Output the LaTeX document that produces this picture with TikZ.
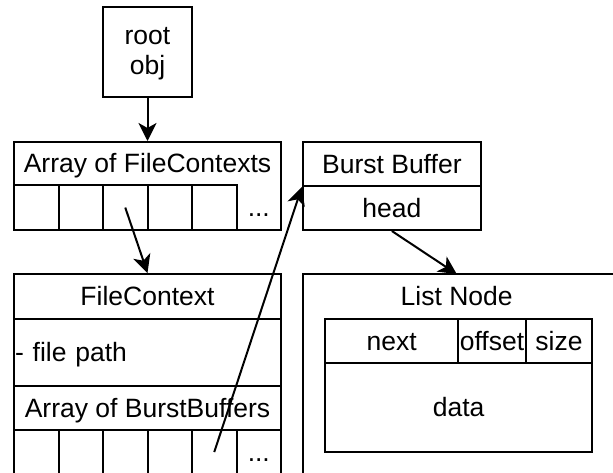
\documentclass[tikz,border=0pt]{standalone}
\usepackage{fontspec}
\setmainfont{Liberation Sans}
\usetikzlibrary{arrows.meta}

\begin{document}
\begin{tikzpicture}[x=1pt,y=-1pt,
    every node/.style={font=\fontsize{26.5}{30}\selectfont, inner sep=0pt},
    txt/.style={text height=21pt, text depth=3pt},
    box/.style={draw, line width=2pt, txt},
    cell/.style={draw, line width=2pt, minimum width=44.5pt, minimum height=#1},
    ptr/.style={-{Stealth[length=18pt,width=18pt,inset=5pt]}, line width=2pt}]
    % \draw[help lines] (0,0) grid[step=50] (613,472);
    \useasboundingbox (0,0) rectangle (613,472);
    \clip (0,0) rectangle (613,472);

    \node[draw, line width=2pt, minimum width=89pt, minimum height=90pt, align=center,
          text depth=2.5pt] (root) at (147.5,52) {root\\obj};

    % array of file contexts
    \node[box, minimum width=267pt, minimum height=88pt] (fcs) at (147.5,186) {};
    \node[txt] (fcs-title) at (147.5,163.5) {Array of FileContexts};
    \foreach \i in {1,...,5}
        \node[cell=45pt] (fcs-\i) at (-8.25+44.5*\i,207.5) {};
    \node[txt] (fcs-more) at (258.8,207.5) {...};

    % burst buffer
    \node[box, minimum width=178pt, minimum height=44pt] (bb)      at (391.85,164) {Burst Buffer};
    \node[box, minimum width=178pt, minimum height=44pt] (bb-head) at (391.85,208) {head};

    % file context
    \node[box, minimum width=267pt, minimum height=45.3pt] (fc) at (147.5,296.65) {FileContext};
    \node[box, minimum width=267pt, minimum height=66.7pt, text width=265pt, align=left]
        (fc-path) at (147.5,352.65) {- file path};
    \node[box, minimum width=267pt, minimum height=44pt] (fc-bbs) at (147.5,408) {Array of BurstBuffers};
    \node[box, minimum width=267pt, minimum height=60pt] (fc-arr) at (147.5,460) {};
    \foreach \i in {1,...,5}
        \node[cell=44pt] (fc-\i) at (-8.25+44.5*\i,452) {};
    \node[txt] (fc-more) at (258.8,452) {...};

    % list node
    \node[box, minimum width=312pt, minimum height=210pt] (ln) at (458.7,379) {};
    \node[txt] (ln-title) at (456.7,296.7) {List Node};
    \coordinate (ln-top) at (456.7,274);
    \node[box, minimum width=133.3pt, minimum height=44pt] (ln-next)   at (391.65,341.3) {next};
    \node[box, minimum width=67.4pt,  minimum height=44pt] (ln-offset) at (492,341.3) {offset};
    \node[box, minimum width=66.6pt,  minimum height=44pt] (ln-size)   at (559,341.3) {size};
    \node[box, minimum width=267.3pt, minimum height=89pt] (ln-data)   at (458.65,407.8) {data};

    \draw[ptr] (root) -- (fcs);
    \draw[ptr] (fcs-3.center) -- (fc.north);
    \draw[ptr] (fc-5.center) -- (bb.south west);
    \draw[ptr] (bb-head.south) -- (ln-top);
\end{tikzpicture}
\end{document}
